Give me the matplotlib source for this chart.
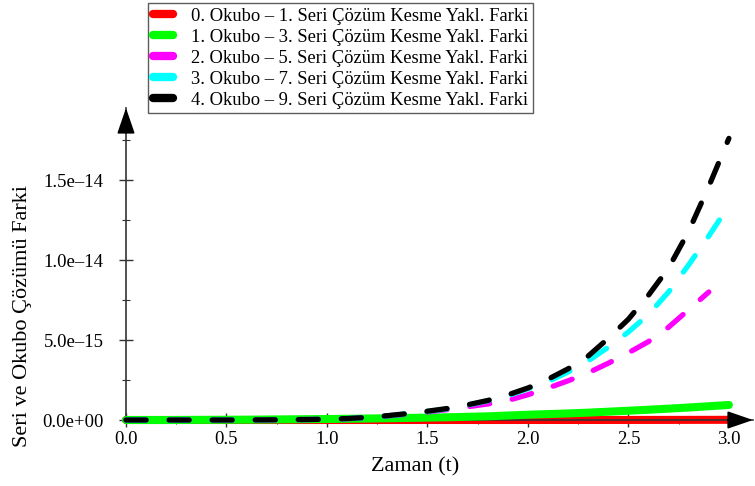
import matplotlib
matplotlib.use("Agg")
import matplotlib.pyplot as plt
from matplotlib.lines import Line2D
from matplotlib.ticker import MultipleLocator, FuncFormatter

plt.rcParams["font.family"] = ["Liberation Serif", "DejaVu Serif"]
plt.rcParams["lines.scale_dashes"] = False

# zaman ekseni ve farklar (1e-15 biriminde)
t = [0.0, 0.1, 0.2, 0.3, 0.4, 0.5, 0.6, 0.7, 0.8, 0.9, 1.0,
     1.1, 1.2, 1.3, 1.4, 1.5, 1.6, 1.7, 1.8, 1.9, 2.0,
     2.1, 2.2, 2.3, 2.4, 2.5, 2.6, 2.7, 2.8, 2.9, 3.0]
fark_1 = [0, 0, 0, 0, 0, 0, 0, 0, 0, 0, 0,
          0, 0, 0, 0, 0, 0, 0, 0, 0, 0.001,
          0.001, 0.002, 0.002, 0.003, 0.004, 0.005, 0.006, 0.008, 0.01, 0.012]
fark_3 = [0, 0, 0, 0.005, 0.01, 0.015, 0.02, 0.03, 0.04, 0.05, 0.06,
          0.075, 0.09, 0.11, 0.13, 0.15, 0.17, 0.2, 0.23, 0.28, 0.33,
          0.37, 0.41, 0.46, 0.52, 0.58, 0.64, 0.71, 0.78, 0.86, 0.94]
# 5. seri farki resimde 2.9'da bitiyor
fark_5 = [0, 0, 0, 0, 0, 0, 0.005, 0.01, 0.02, 0.03, 0.05,
          0.08, 0.15, 0.25, 0.37, 0.5, 0.65, 0.83, 1.0, 1.22, 1.58,
          2.0, 2.45, 2.95, 3.55, 4.2, 4.9, 5.8, 6.9, 8.0]
fark_7 = [0, 0, 0, 0, 0, 0, 0.005, 0.01, 0.02, 0.03, 0.05,
          0.09, 0.15, 0.26, 0.39, 0.53, 0.7, 0.93, 1.2, 1.52, 1.95,
          2.4, 3.0, 3.7, 4.55, 5.5, 6.6, 8.0, 9.7, 11.5, 13.4]
fark_9 = [0, 0, 0, 0, 0, 0, 0.005, 0.01, 0.02, 0.03, 0.05,
          0.09, 0.16, 0.27, 0.40, 0.55, 0.72, 0.95, 1.22, 1.57, 2.0,
          2.55, 3.2, 4.0, 5.1, 6.3, 7.8, 9.5, 11.8, 14.6, 17.6]

etiketler = [
    "0. Okubo \u2013 1. Seri Çözüm Kesme Yakl. Farki",
    "1. Okubo \u2013 3. Seri Çözüm Kesme Yakl. Farki",
    "2. Okubo \u2013 5. Seri Çözüm Kesme Yakl. Farki",
    "3. Okubo \u2013 7. Seri Çözüm Kesme Yakl. Farki",
    "4. Okubo \u2013 9. Seri Çözüm Kesme Yakl. Farki",
]
renkler = ["#ff0000", "#00ff00", "#ff00ff", "#00ffff", "#000000"]
seriler = [fark_1, fark_3, fark_5, fark_7, fark_9]

fig = plt.figure(figsize=(7.55, 4.86), dpi=100)
ax = fig.add_axes([126 / 755, 66 / 486, 627 / 755, 312 / 486])

for i, (y, c) in enumerate(zip(seriler, renkler)):
    yy = [v * 1e-15 for v in y]
    tt = t[:len(y)]
    if i < 2:
        ax.plot(tt, yy, color=c, lw=5.8, solid_capstyle="round",
                clip_on=False, zorder=2 + i)
    else:
        ax.plot(tt, yy, color=c, lw=3.8, dashes=(14.5, 16.5),
                dash_capstyle="round", clip_on=False, zorder=2 + i)

ax.set_xlim(0, 3.12)
ax.set_ylim(0, 19.5e-15)

for s in ["top", "right"]:
    ax.spines[s].set_visible(False)
for s in ["left", "bottom"]:
    ax.spines[s].set_color("#333333")
    ax.spines[s].set_linewidth(1.2)

ax.set_xticks([0.0, 0.5, 1.0, 1.5, 2.0, 2.5, 3.0])
ax.xaxis.set_minor_locator(MultipleLocator(0.25))
ax.yaxis.set_major_locator(MultipleLocator(5e-15))
ax.yaxis.set_minor_locator(MultipleLocator(2.5e-15))


def y_fmt(v, pos):
    return f"{v:.1e}".replace("-", "\u2013")


ax.yaxis.set_major_formatter(FuncFormatter(y_fmt))
ax.xaxis.set_major_formatter(FuncFormatter(lambda v, p: f"{v:.1f}"))
ax.tick_params(axis="both", which="major", direction="inout", length=10,
               width=1.0, color="#333333", labelsize=13.5)
ax.tick_params(axis="both", which="minor", direction="inout", length=6,
               width=0.8, color="#333333")
ax.tick_params(axis="x", pad=3)
ax.tick_params(axis="y", pad=11)

# ok başları
ok = dict(arrowstyle="-|>,head_length=1.6,head_width=0.55",
          color="black", lw=1.2, shrinkA=0, shrinkB=0)
ax.annotate("", xy=(1.0, 0), xycoords="axes fraction", xytext=(0.96, 0),
            arrowprops=ok, zorder=10, annotation_clip=False)
ax.annotate("", xy=(0, 1.0), xycoords="axes fraction", xytext=(0, 0.93),
            arrowprops=ok, zorder=10, annotation_clip=False)

fig.text(415 / 755, 1 - 467 / 486, "Zaman (t)", ha="center", va="center",
         fontsize=16)
fig.text(23 / 755, 1 - 316 / 486, "Seri ve Okubo Çözümü Farki", ha="center",
         va="center", rotation=90, fontsize=16)

handles = [Line2D([], [], color=c, lw=6, solid_capstyle="round")
           for c in renkler]
leg = fig.legend(handles, etiketler, loc="upper left",
                 bbox_to_anchor=(148 / 755, 1 - 3 / 486), fontsize=13.3,
                 frameon=True, fancybox=False, edgecolor="#333333",
                 handlelength=1.1, handletextpad=1.0, labelspacing=0.22,
                 borderpad=0.25, borderaxespad=0)
leg.get_frame().set_linewidth(1.0)

fig.savefig("out.png", dpi=100)
